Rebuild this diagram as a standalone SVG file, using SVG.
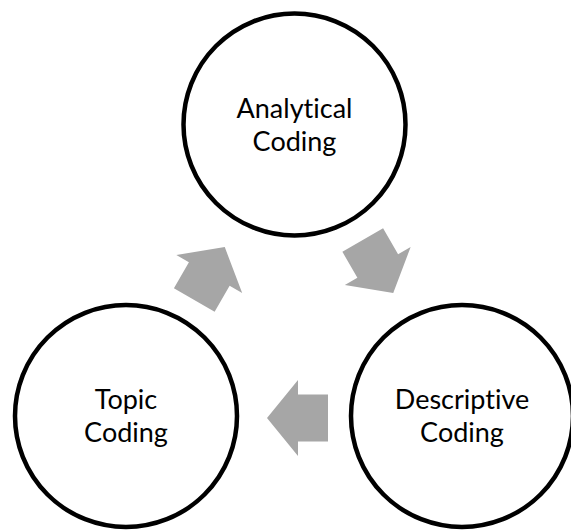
<svg xmlns="http://www.w3.org/2000/svg" width="571" height="531" viewBox="0 0 571 531">
<style>
.node circle{fill:#ffffff;stroke:#000000;stroke-width:4.5}
.node text{font-family:Lato,"Open Sans",sans-serif;font-size:27px;fill:#000000;text-anchor:middle;font-variant-ligatures:none;font-feature-settings:"liga" 0,"dlig" 0}
.arrow{fill:#a6a6a6;stroke:none}
</style>
<defs>
<polygon id="arr" class="arrow" points="328,394.5 298,394.5 298,380 267,418 298,456 298,441.5 328,441.5"/>
</defs>
<rect width="571" height="531" fill="#ffffff"/>
<g id="connectors">
<use href="#arr"/>
<use href="#arr" transform="translate(3,1) rotate(120 294 319)"/>
<use href="#arr" transform="rotate(240 294 319)"/>
</g>
<g id="node-analytical" class="node">
<circle cx="294.5" cy="124.5" r="111"/>
<text x="294.5" y="118">Analytical</text>
<text x="294.5" y="151">Coding</text>
</g>
<g id="node-topic" class="node">
<circle cx="126" cy="416" r="111"/>
<text x="126" y="409">Topic</text>
<text x="126" y="442">Coding</text>
</g>
<g id="node-descriptive" class="node">
<circle cx="462" cy="416" r="111"/>
<text x="462" y="409">Descriptive</text>
<text x="462" y="442">Coding</text>
</g>
</svg>
